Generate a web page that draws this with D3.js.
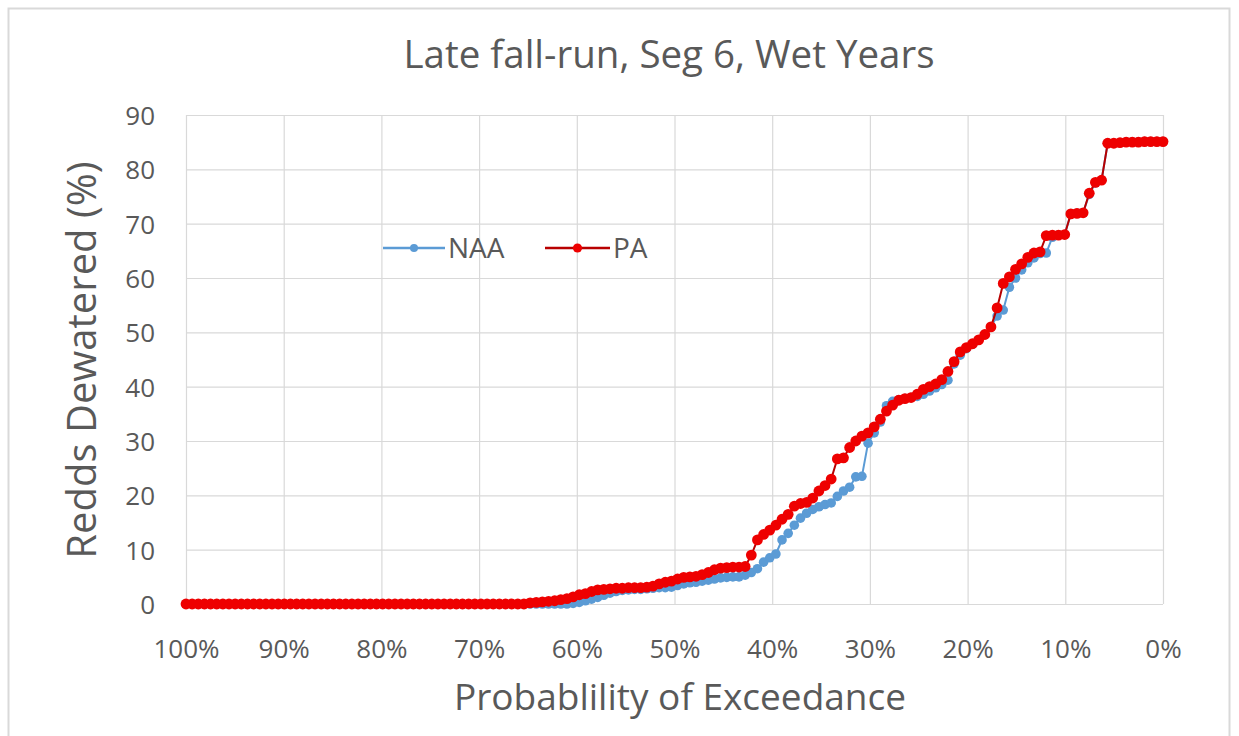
<!DOCTYPE html>
<html><head><meta charset="utf-8">
<script src="https://cdn.jsdelivr.net/npm/d3@7"></script>
<style>body{margin:0;background:#fff}svg{display:block}text{font-family:"Open Sans",sans-serif;fill:#595959}</style>
</head><body><svg id="c" width="1239" height="736"></svg>
<script>
const title = "Late fall-run, Seg 6, Wet Years";
const xTitle = "Probablility of Exceedance";
const yTitle = "Redds Dewatered (%)";
const seriesNames = ["NAA", "PA"];
const xTicks = [1,0.9,0.8,0.7,0.6,0.5,0.4,0.3,0.2,0.1,0];
const yTicks = [0,10,20,30,40,50,60,70,80,90];
// values sorted ascending (index 0 = 100% exceedance)
const zeros = n => new Array(n).fill(0);
const paValues = zeros(56).concat([
 0.2,0.3,0.4,0.5,0.6,0.8,1.0,1.3,1.7,1.9,
 2.3,2.6,2.7,2.8,2.9,2.9,3.0,3.0,3.0,3.1,
 3.3,3.7,4.0,4.2,4.6,4.9,5.0,5.1,5.4,5.8,
 6.3,6.6,6.7,6.8,6.8,6.9,9.0,11.8,12.8,13.6,
 14.5,15.6,16.5,18.0,18.5,18.7,19.5,20.8,21.8,23.0,
 26.7,26.9,28.8,30.0,30.9,31.5,32.6,34.0,35.5,36.6,
 37.5,37.8,38.0,38.6,39.5,40.0,40.5,41.3,42.8,44.6,
 46.4,47.2,47.9,48.6,49.6,51.0,54.5,59.0,60.2,61.6,
 62.6,63.8,64.6,64.8,67.8,67.9,67.9,68.0,71.8,71.9,
 72.0,75.6,77.6,78.0,84.8,84.8,84.9,85.0,85.0,85.0,
 85.1,85.1,85.1,85.1]);
const naaValues = zeros(63).concat([
 0.1,0.3,0.6,0.9,1.2,1.6,2.0,2.3,2.5,2.6,
 2.7,2.7,2.8,2.9,3.0,3.0,3.1,3.4,3.7,3.9,
 4.0,4.2,4.4,4.6,4.8,4.9,5.0,5.0,5.3,5.8,
 6.5,7.7,8.5,9.2,11.8,13.0,14.5,15.8,16.7,17.4,
 17.9,18.3,18.6,19.8,20.8,21.5,23.4,23.5,29.6,31.5,
 33.5,36.5,37.3,37.6,37.8,38.0,38.2,38.6,39.2,39.8,
 40.4,41.2,44.2,45.8,47.0,47.8,48.6,49.6,51.0,53.0,
 54.1,58.3,60.0,61.5,62.8,63.7,64.5,64.6,67.5,67.9,
 68.0,71.8,71.9,72.0,75.4,77.5,78.0,84.8,84.8,84.9,
 85.0,85.0,85.0,85.1,85.1,85.1,85.1]);

const svg = d3.select("#c");
const L = 186, R = 1163, T = 115, B = 604;
const x = d3.scaleLinear().domain([1,0]).range([L,R]);
const y = d3.scaleLinear().domain([0,90]).range([B,T]);

svg.append("rect").attr("x",8.5).attr("y",8.5).attr("width",1221).attr("height",740)
  .attr("fill","#fff").attr("stroke","#d9d9d9").attr("stroke-width",2);

// gridlines
svg.append("g").selectAll("line").data(yTicks).join("line")
  .attr("x1",L).attr("x2",R).attr("y1",d=>y(d)+0.5).attr("y2",d=>y(d)+0.5)
  .attr("stroke","#d9d9d9").attr("stroke-width",1.2);
svg.append("g").selectAll("line").data(xTicks).join("line")
  .attr("x1",d=>x(d)+0.5).attr("x2",d=>x(d)+0.5).attr("y1",T).attr("y2",B)
  .attr("stroke","#d9d9d9").attr("stroke-width",1.2);

// axes labels
const xa = d3.axisBottom(x).tickValues(xTicks).tickFormat(d3.format(".0%")).tickSize(0).tickPadding(0);
const gx = svg.append("g").attr("transform",`translate(0,${B})`).call(xa);
gx.select(".domain").remove();
gx.selectAll("text").attr("y",54).attr("dy",0).style("font-size","26px").attr("fill","#595959");
const ya = d3.axisLeft(y).tickValues(yTicks).tickSize(0).tickPadding(0);
const gy = svg.append("g").attr("transform",`translate(${L},0)`).call(ya);
gy.select(".domain").remove();
gy.selectAll("text").attr("x",-31).attr("dy","0.36em").style("font-size","26px").attr("fill","#595959");

svg.append("text").attr("x",669).attr("y",68).attr("text-anchor","middle")
  .style("font-size","38.5px").text(title);
svg.append("text").attr("x",680).attr("y",710).attr("text-anchor","middle")
  .style("font-size","37px").text(xTitle);
svg.append("text").attr("transform","translate(96,360) rotate(-90)").attr("text-anchor","middle")
  .style("font-size","40px").text(yTitle);

const n = paValues.length;
const prob = i => 1 - i/(n-1);
const line = d3.line().x((d,i)=>x(prob(i))).y(d=>y(d));

const styles = [
  {vals:naaValues, line:"#5b9bd5", mark:"#5b9bd5", r:4.8, w:2},
  {vals:paValues, line:"#b80000", mark:"#ee0000", r:5.4, w:2}
];
styles.forEach(s=>{
  svg.append("path").datum(s.vals).attr("d",line).attr("fill","none")
    .attr("stroke",s.line).attr("stroke-width",s.w);
  svg.append("g").selectAll("circle").data(s.vals).join("circle")
    .attr("cx",(d,i)=>x(prob(i))).attr("cy",d=>y(d)).attr("r",s.r).attr("fill",s.mark);
});

// legend
const leg = [{name:seriesNames[0], x1:383, x2:445, s:styles[0]},{name:seriesNames[1], x1:545, x2:610, s:styles[1]}];
const ly = 248;
leg.forEach(l=>{
  svg.append("line").attr("x1",l.x1).attr("x2",l.x2).attr("y1",ly).attr("y2",ly)
    .attr("stroke",l.s.line).attr("stroke-width",2.5);
  svg.append("circle").attr("cx",(l.x1+l.x2)/2).attr("cy",ly).attr("r",l.s.r-0.8).attr("fill",l.s.mark);
  svg.append("text").attr("x",l.x2+3).attr("y",ly).attr("dy","0.36em").style("font-size","28px").text(l.name);
});
</script></body></html>
